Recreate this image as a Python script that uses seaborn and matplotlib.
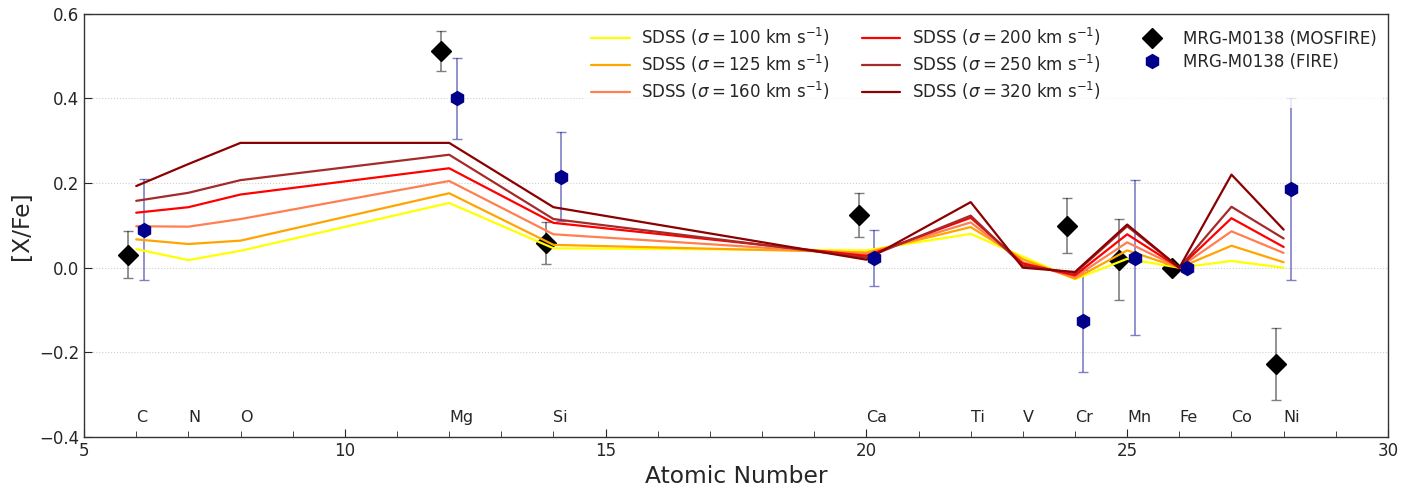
import numpy as np
import pandas as pd
import matplotlib
matplotlib.use("Agg")
import matplotlib.pyplot as plt
import seaborn as sns
from matplotlib.ticker import MultipleLocator

# ---------------- data ----------------
atomic_number = [6, 7, 8, 12, 14, 20, 22, 23, 24, 25, 26, 27, 28]
elements = ['C', 'N', 'O', 'Mg', 'Si', 'Ca', 'Ti', 'V', 'Cr', 'Mn', 'Fe', 'Co', 'Ni']

sigmas = [100, 125, 160, 200, 250, 320]
sdss_100 = [0.044, 0.018, 0.040, 0.153, 0.046, 0.041, 0.080, 0.026, -0.027, 0.021, 0.0, 0.016, 0.000]
sdss_125 = [0.067, 0.056, 0.064, 0.176, 0.054, 0.036, 0.096, 0.020, -0.026, 0.041, 0.0, 0.052, 0.013]
sdss_160 = [0.098, 0.097, 0.115, 0.205, 0.079, 0.032, 0.107, 0.013, -0.022, 0.060, 0.0, 0.086, 0.035]
sdss_200 = [0.130, 0.143, 0.173, 0.235, 0.106, 0.028, 0.118, 0.010, -0.018, 0.079, 0.0, 0.117, 0.049]
sdss_250 = [0.158, 0.177, 0.207, 0.267, 0.115, 0.024, 0.123, 0.005, -0.013, 0.098, 0.0, 0.144, 0.069]
sdss_320 = [0.193, 0.245, 0.295, 0.295, 0.143, 0.019, 0.155, 0.000, -0.010, 0.102, 0.0, 0.220, 0.090]
sdss_series = [sdss_100, sdss_125, sdss_160, sdss_200, sdss_250, sdss_320]
sdss_colors = ['yellow', 'orange', 'coral', 'red', 'brown', 'darkred']

obs_z = [6, 12, 14, 20, 24, 25, 26, 28]
mosfire_val = [0.031, 0.513, 0.059, 0.124, 0.099, 0.019, 0.000, -0.227]
mosfire_err = [0.055, 0.047, 0.050, 0.052, 0.065, 0.095, 0.000, 0.085]
fire_val = [0.090, 0.400, 0.215, 0.022, -0.126, 0.024, 0.000, 0.186]
fire_err = [0.120, 0.095, 0.105, 0.066, 0.120, 0.183, 0.000, 0.215]

# ---------------- plot ----------------
sns.set_style("white")
plt.rcParams['font.family'] = ['DejaVu Sans']

fig = plt.figure(figsize=(14.25, 4.93), dpi=100)
ax = fig.add_axes([0.059, 0.1136, 0.915, 0.8584])

labels = [f'SDSS ($\\sigma = {s}$ km s$^{{-1}}$)' for s in sigmas]
rows = []
for lab, ser in zip(labels, sdss_series):
    for z, v in zip(atomic_number, ser):
        rows.append({'Z': z, 'val': v, 'model': lab})
df = pd.DataFrame(rows)

# MOSFIRE (below lines)
off = 0.15
ax.errorbar(np.array(obs_z) - off, mosfire_val, yerr=mosfire_err, fmt='none',
            ecolor='black', alpha=0.5, capsize=3.5, elinewidth=1.2, zorder=1)
ax.plot(np.array(obs_z) - off, mosfire_val, 'D', color='black', ms=10,
        label='MRG-M0138 (MOSFIRE)', zorder=2)

sns.lineplot(data=df, x='Z', y='val', hue='model', palette=sdss_colors,
             hue_order=labels, estimator=None, sort=False, lw=1.6, ax=ax,
             zorder=3)

ax.errorbar(np.array(obs_z) + off, fire_val, yerr=fire_err, fmt='none',
            ecolor='darkblue', alpha=0.5, capsize=3.5, elinewidth=1.2, zorder=2.5)
ax.plot(np.array(obs_z) + off, fire_val, 'h', color='darkblue', ms=10,
        label='MRG-M0138 (FIRE)', zorder=4)

for z, el in zip(atomic_number, elements):
    ax.text(z, -0.355, el, ha='left', va='center', fontsize=11.5)

ax.set_xlim(5, 30)
ax.set_ylim(-0.4, 0.6)
ax.xaxis.set_major_locator(MultipleLocator(5))
ax.xaxis.set_minor_locator(MultipleLocator(1))
ax.yaxis.set_major_locator(MultipleLocator(0.2))
ax.tick_params(axis='both', which='both', direction='in', labelsize=12)
ax.tick_params(axis='x', which='major', length=6, bottom=True)
ax.tick_params(axis='x', which='minor', length=4, bottom=True)
ax.tick_params(axis='y', which='major', length=6, left=True)
ax.yaxis.grid(True, linestyle=':', color='#d0d0d0', lw=0.8)
ax.set_axisbelow(True)
for s in ax.spines.values():
    s.set_color('#333333')
    s.set_linewidth(1.0)

ax.set_xlabel('Atomic Number', fontsize=16.8)
ax.set_ylabel('[X/Fe]', fontsize=16.8)

handles, labs = ax.get_legend_handles_labels()
order = labels + ['MRG-M0138 (MOSFIRE)', 'MRG-M0138 (FIRE)']
hmap = dict(zip(labs, handles))
leg = ax.legend([hmap[l] for l in order], order, ncol=3, loc='upper right',
                fontsize=12, frameon=True, framealpha=0.8, edgecolor='none',
                columnspacing=1.9, handlelength=2.3, handletextpad=0.7,
                labelspacing=0.3, borderaxespad=0.3)

fig.savefig('out.png', dpi=100)
